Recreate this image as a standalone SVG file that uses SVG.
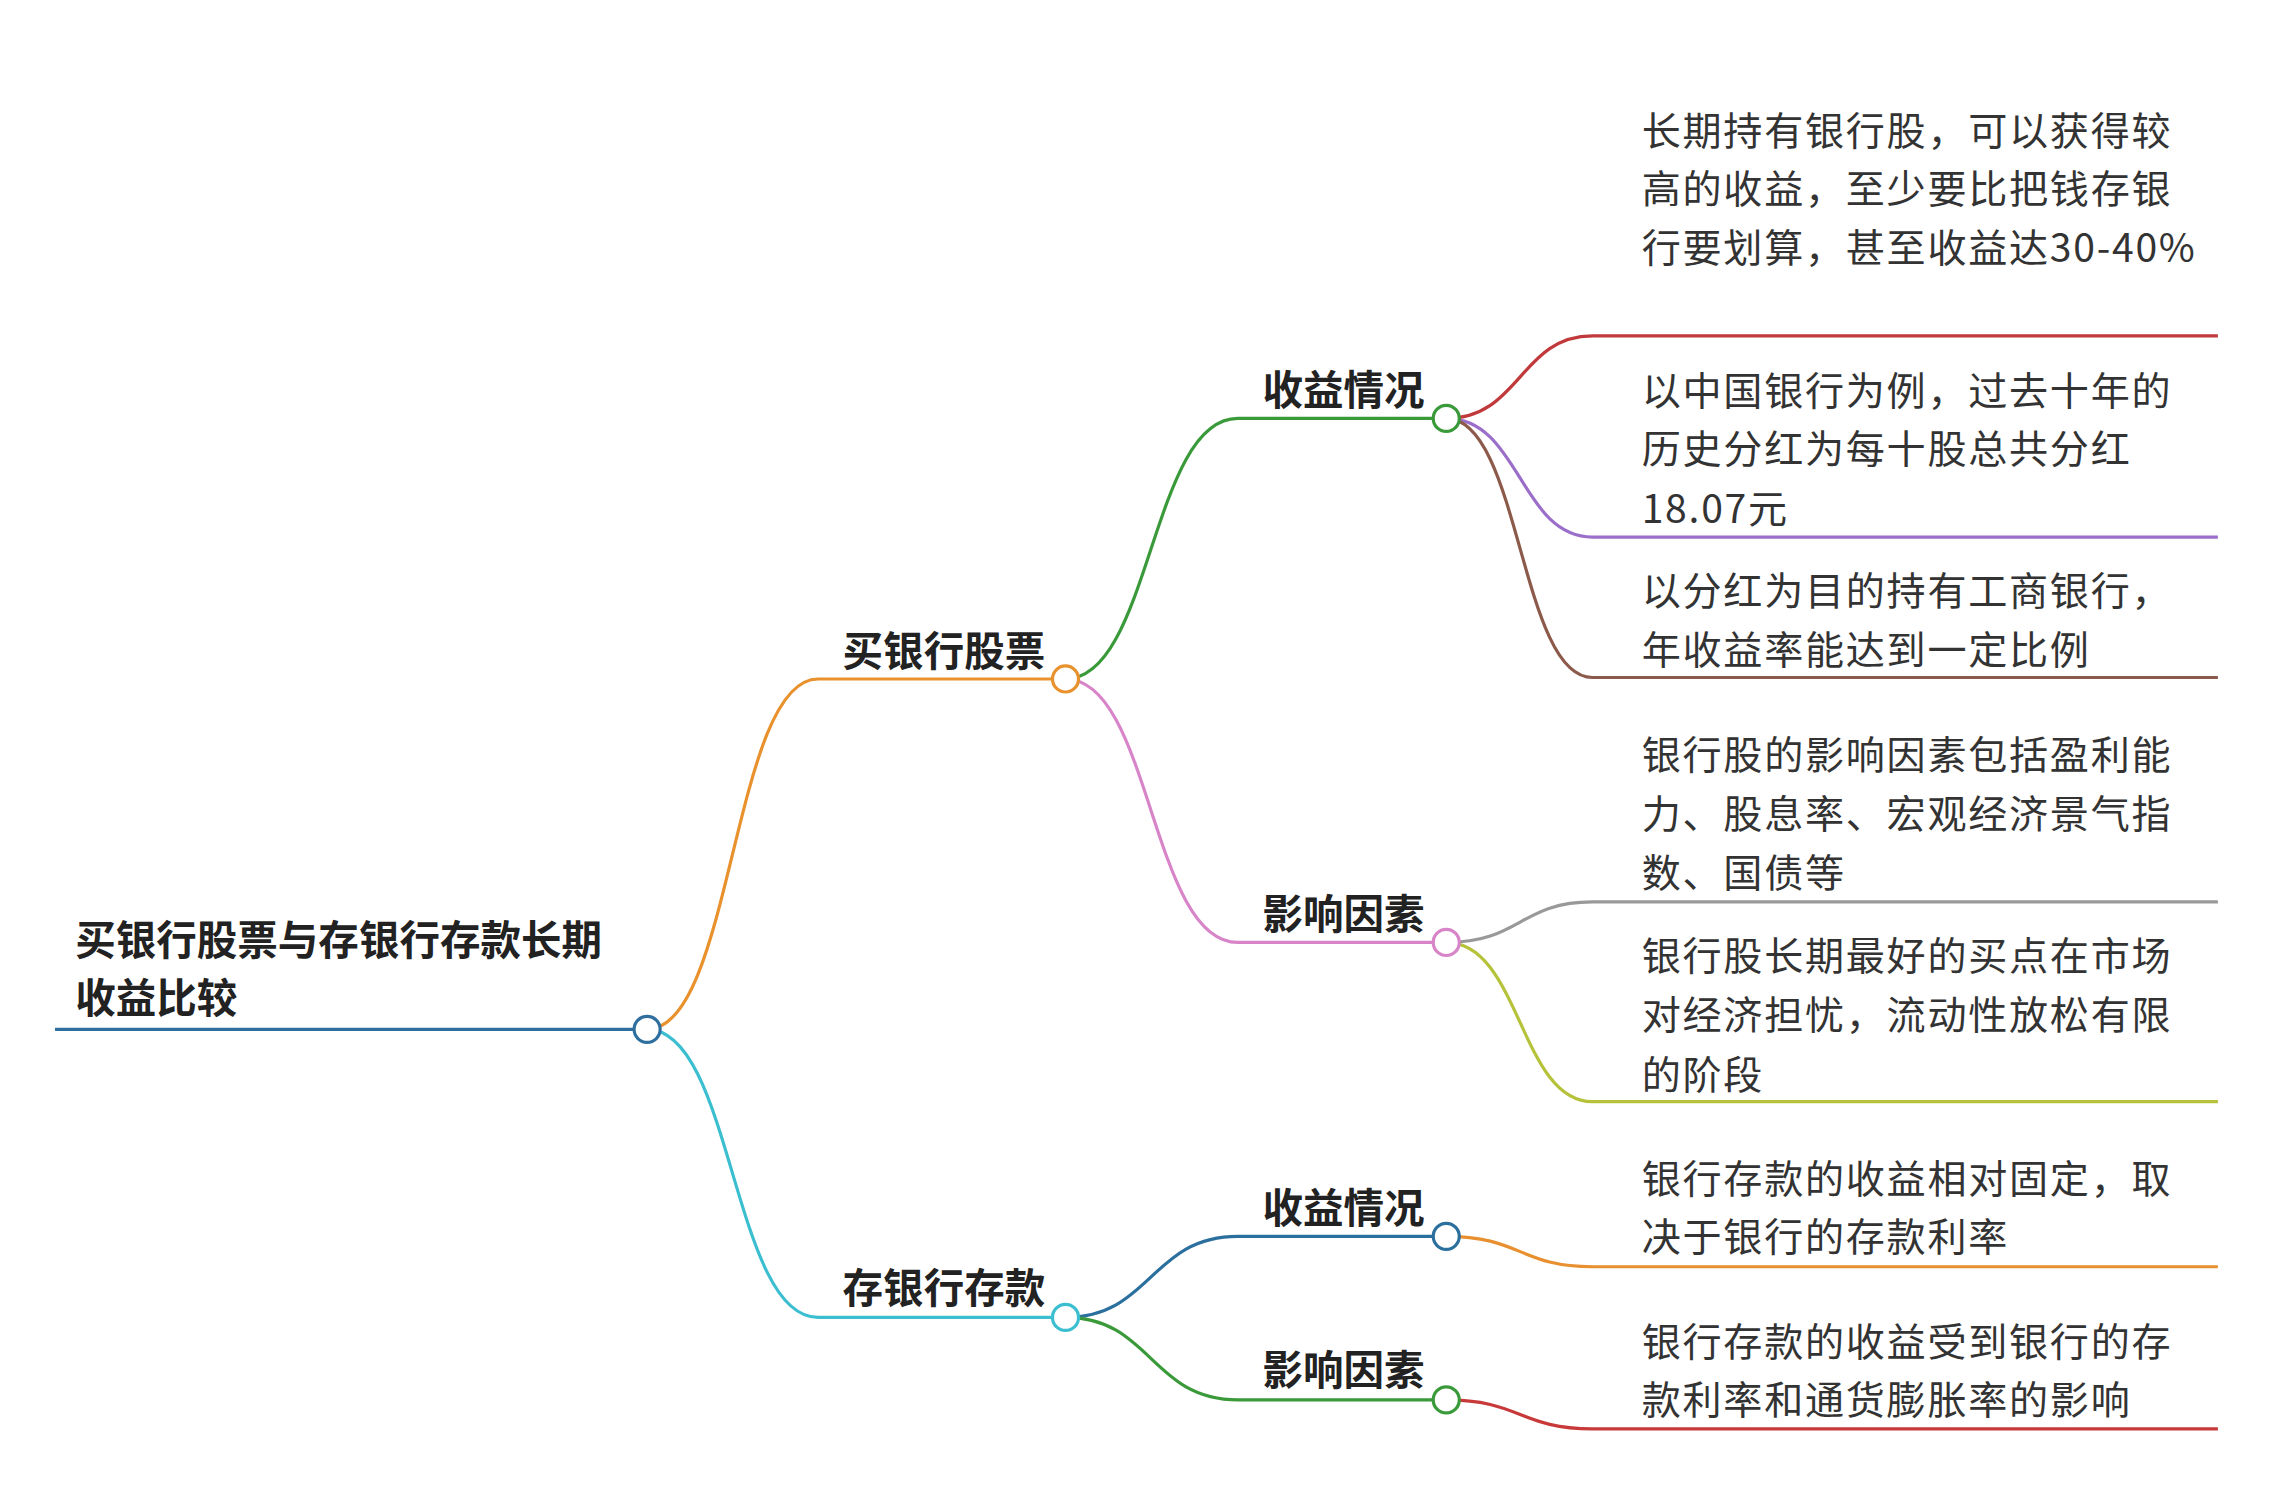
<svg xmlns="http://www.w3.org/2000/svg" width="2270" height="1490" viewBox="0 0 2270 1490">
<style>
.l{fill:none;stroke-width:2.2}
.c{fill:#fff;stroke-width:2.2}
.t{font-family:"Noto Sans CJK SC","Noto Sans",sans-serif;fill:#333;font-size:27px;letter-spacing:1.2px}
.b{font-family:"Noto Sans CJK SC","Noto Sans",sans-serif;fill:#222;font-size:28px;font-weight:bold}
</style>
<rect width="2270" height="1490" fill="#fff"/>
<g transform="scale(1.4477)">
<g id="connectors">
<path class="l" stroke="#2f6f9f" d="M38,711 L447,711"/>
<path class="l" stroke="#e8912d" d="M447,711 C506,711 506,469 565,469 L736,469"/>
<path class="l" stroke="#3bbfd0" d="M447,711 C506,711 506,910 565,910 L736,910"/>
<path class="l" stroke="#3a9a3a" d="M736,469 C795,469 795,289 855,289 L999,289"/>
<path class="l" stroke="#d884c8" d="M736,469 C795,469 795,651 855,651 L999,651"/>
<path class="l" stroke="#2a6f9e" d="M736,910 C795,910 795,854 855,854 L999,854"/>
<path class="l" stroke="#3a9a3a" d="M736,910 C795,910 795,967 855,967 L999,967"/>
<path class="l" stroke="#c0393b" d="M999,289 C1050,289 1050,232 1100,232 L1532,232"/>
<path class="l" stroke="#9b6fc9" d="M999,289 C1050,289 1050,371 1100,371 L1532,371"/>
<path class="l" stroke="#8b5a4a" d="M999,289 C1050,289 1050,468 1100,468 L1532,468"/>
<path class="l" stroke="#999" d="M999,651 C1050,651 1050,623 1100,623 L1532,623"/>
<path class="l" stroke="#b5c23a" d="M999,651 C1050,651 1050,761 1100,761 L1532,761"/>
<path class="l" stroke="#e89030" d="M999,854 C1050,854 1050,875 1100,875 L1532,875"/>
<path class="l" stroke="#c83a3a" d="M999,967 C1050,967 1050,987 1100,987 L1532,987"/>
</g>
<g id="root"><circle class="c" stroke="#2f6f9f" cx="447" cy="711" r="9"/>
<text class="b" x="52" y="660">买银行股票与存银行存款长期</text><text class="b" x="52" y="700">收益比较</text></g>
<g id="n1"><circle class="c" stroke="#e8912d" cx="736" cy="469" r="9"/><text class="b" x="652" y="460" text-anchor="middle">买银行股票</text></g>
<g id="n2"><circle class="c" stroke="#3bbfd0" cx="736" cy="910" r="9"/><text class="b" x="652" y="900" text-anchor="middle">存银行存款</text></g>
<g id="n11"><circle class="c" stroke="#3a9a3a" cx="999" cy="289" r="9"/><text class="b" x="928" y="280" text-anchor="middle">收益情况</text></g>
<g id="n12"><circle class="c" stroke="#d884c8" cx="999" cy="651" r="9"/><text class="b" x="928" y="642" text-anchor="middle">影响因素</text></g>
<g id="n21"><circle class="c" stroke="#2a6f9e" cx="999" cy="854" r="9"/><text class="b" x="928" y="845" text-anchor="middle">收益情况</text></g>
<g id="n22"><circle class="c" stroke="#3a9a3a" cx="999" cy="967" r="9"/><text class="b" x="928" y="957" text-anchor="middle">影响因素</text></g>
<g id="leaf1"><text class="t" x="1134" y="100">长期持有银行股，可以获得较</text><text class="t" x="1134" y="140">高的收益，至少要比把钱存银</text><text class="t" x="1134" y="181">行要划算，甚至收益达30-40%</text></g>
<g id="leaf2"><text class="t" x="1134" y="280">以中国银行为例，过去十年的</text><text class="t" x="1134" y="320">历史分红为每十股总共分红</text><text class="t" x="1134" y="361">18.07元</text></g>
<g id="leaf3"><text class="t" x="1134" y="418">以分红为目的持有工商银行，</text><text class="t" x="1134" y="459">年收益率能达到一定比例</text></g>
<g id="leaf4"><text class="t" x="1134" y="531">银行股的影响因素包括盈利能</text><text class="t" x="1134" y="572">力、股息率、宏观经济景气指</text><text class="t" x="1134" y="613">数、国债等</text></g>
<g id="leaf5"><text class="t" x="1134" y="670">银行股长期最好的买点在市场</text><text class="t" x="1134" y="711">对经济担忧，流动性放松有限</text><text class="t" x="1134" y="752">的阶段</text></g>
<g id="leaf6"><text class="t" x="1134" y="824">银行存款的收益相对固定，取</text><text class="t" x="1134" y="864">决于银行的存款利率</text></g>
<g id="leaf7"><text class="t" x="1134" y="937">银行存款的收益受到银行的存</text><text class="t" x="1134" y="977">款利率和通货膨胀率的影响</text></g>
</g>
</svg>
